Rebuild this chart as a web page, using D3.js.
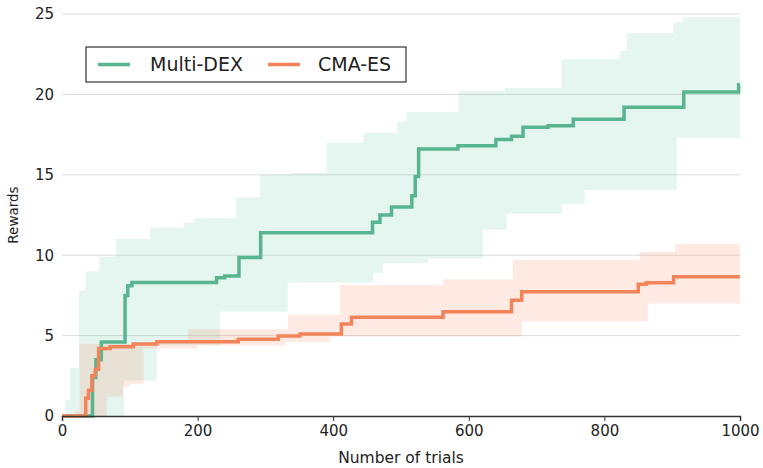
<!DOCTYPE html>
<html>
<head>
<meta charset="utf-8">
<script src="https://cdn.jsdelivr.net/npm/d3@7"></script>
<style>
  body { margin: 0; background: #fff; }
  svg { font-family: "DejaVu Sans", sans-serif; }
</style>
</head>
<body>
<div class="chart"></div>
<script>
// values: [trial, reward], step-after
const seriesNames = ["Multi-DEX", "CMA-ES"];
const colors = ["#58b590", "#f3845a"];
const bandColors = ["#66c2a5", "#fc8d62"];
const xTicks = [0, 200, 400, 600, 800, 1000];
const yTicks = [0, 5, 10, 15, 20, 25];

const dexMedian = [[0,0],[45,2.4],[50,3.5],[58,4.6],[93,7.5],[97,8.1],[103,8.3],[228,8.6],[240,8.7],[261,9.85],[293,11.4],[458,12.05],[469,12.5],[486,13.0],[516,13.7],[521,14.9],[526,16.6],[584,16.8],[640,17.2],[663,17.4],[680,17.95],[717,18.05],[754,18.45],[829,19.2],[917,20.15],[998,20.6],[1000,20.6]];
const dexUpper = [[0,0],[5,1.0],[12,3.0],[25,7.8],[35,9.0],[55,9.9],[80,11.0],[130,11.7],[180,12.0],[194,12.3],[257,13.6],[292,15.0],[336,15.1],[390,17.0],[444,17.6],[494,18.3],[508,18.9],[585,20.2],[653,20.4],[737,22.2],[823,22.7],[833,23.8],[902,24.5],[916,24.8],[1000,24.8]];
const dexLower = [[0,0],[91,2.2],[140,4.4],[233,6.5],[333,8.3],[459,8.87],[473,9.5],[540,9.8],[621,11.6],[656,12.6],[737,13.2],[771,14.05],[907,17.3],[1000,17.3]];

const cmaMedian = [[0,0],[34,0],[35,1.1],[39,1.6],[44,2.5],[49,2.9],[54,4.2],[71,4.3],[105,4.48],[140,4.62],[260,4.77],[319,4.97],[351,5.1],[412,5.72],[427,6.14],[562,6.49],[663,7.2],[678,7.73],[850,8.19],[862,8.29],[902,8.66],[1000,8.66]];
const cmaUpper = [[0,0],[20,0.3],[26,4.5],[140,4.7],[186,5.4],[333,6.3],[410,8.15],[562,8.5],[665,9.7],[852,10.2],[904,10.7],[1000,10.7]];
const cmaLower = [[0,0],[66,1.2],[90,1.8],[100,2.0],[120,4.2],[200,4.4],[330,4.6],[395,4.95],[678,5.9],[864,7.0],[1000,7.0]];

const W = 763, H = 468;
const margin = {top: 14, right: 23, bottom: 52, left: 62};
const w = W - margin.left - margin.right;
const h = H - margin.top - margin.bottom;

const svg = d3.select(".chart").append("svg")
    .attr("width", W)
    .attr("height", H)
  .append("g")
    .attr("transform", `translate(${margin.left},${margin.top})`);

const x = d3.scaleLinear().domain([0, 1000]).range([0, w]);
const y = d3.scaleLinear().domain([0, 25]).range([h, 0]);

// gridlines
svg.append("g")
  .selectAll("line")
  .data(yTicks.slice(1))
  .join("line")
    .attr("x1", 0).attr("x2", w)
    .attr("y1", d => y(d)).attr("y2", d => y(d))
    .attr("stroke", "#dcdcdc")
    .attr("stroke-width", 1);

// value of a step series at trial t
function stepAt(arr, t) {
  let v = arr[0][1];
  for (const p of arr) { if (p[0] <= t) v = p[1]; else break; }
  return v;
}

function band(upper, lower) {
  const xs = Array.from(new Set(upper.map(d => d[0]).concat(lower.map(d => d[0])))).sort((a, b) => a - b);
  return xs.map(t => ({t, hi: stepAt(upper, t), lo: stepAt(lower, t)}));
}

const area = d3.area()
    .curve(d3.curveStepAfter)
    .x(d => x(d.t))
    .y0(d => y(d.lo))
    .y1(d => y(d.hi));

const line = d3.line()
    .curve(d3.curveStepAfter)
    .x(d => x(d[0]))
    .y(d => y(d[1]));

const bands = [band(dexUpper, dexLower), band(cmaUpper, cmaLower)];
const medians = [dexMedian, cmaMedian];

bands.forEach((b, i) => {
  svg.append("path")
    .datum(b)
    .attr("fill", bandColors[i])
    .attr("fill-opacity", i === 0 ? 0.17 : 0.18)
    .attr("d", area);
});

medians.forEach((m, i) => {
  svg.append("path")
    .datum(m)
    .attr("fill", "none")
    .attr("stroke", colors[i])
    .attr("stroke-width", 3.5)
    .attr("d", line);
});

// axes
const xAxis = svg.append("g")
    .attr("transform", `translate(0,${h})`)
    .call(d3.axisBottom(x).tickValues(xTicks).tickFormat(d3.format("d")).tickSize(5).tickPadding(4));
xAxis.select(".domain").attr("stroke", "#333").attr("stroke-width", 1.5);
xAxis.selectAll(".tick line").attr("stroke", "#333");
xAxis.selectAll(".tick text").attr("font-size", 15).attr("fill", "#222")
    .attr("font-family", "DejaVu Sans, sans-serif");

const yAxis = svg.append("g")
    .call(d3.axisLeft(y).tickValues(yTicks).tickSize(0).tickPadding(8));
yAxis.select(".domain").remove();
yAxis.selectAll(".tick text").attr("font-size", 15).attr("fill", "#222")
    .attr("font-family", "DejaVu Sans, sans-serif");

svg.append("text")
    .attr("x", w / 2)
    .attr("y", h + 47)
    .attr("text-anchor", "middle")
    .attr("font-size", 15.5)
    .attr("fill", "#222")
    .text("Number of trials");

svg.append("text")
    .attr("transform", `translate(${-44},${h / 2}) rotate(-90)`)
    .attr("text-anchor", "middle")
    .attr("font-size", 13.5)
    .attr("fill", "#222")
    .text("Rewards");

// legend
const legend = svg.append("g").attr("transform", `translate(${86 - margin.left},${47 - margin.top})`);
legend.append("rect")
    .attr("width", 320).attr("height", 35)
    .attr("fill", "#fff")
    .attr("stroke", "#333")
    .attr("stroke-width", 1.2);

const legendX = [[12, 64], [182, 232]];
seriesNames.forEach((name, i) => {
  legend.append("line")
    .attr("x1", legendX[i][0]).attr("x2", legendX[i][0] + 32)
    .attr("y1", 17.5).attr("y2", 17.5)
    .attr("stroke", colors[i])
    .attr("stroke-width", 3.5);
  legend.append("text")
    .attr("x", legendX[i][1])
    .attr("y", 17.5)
    .attr("dy", "0.35em")
    .attr("font-size", 19)
    .attr("fill", "#222")
    .text(name);
});
</script>
</body>
</html>
